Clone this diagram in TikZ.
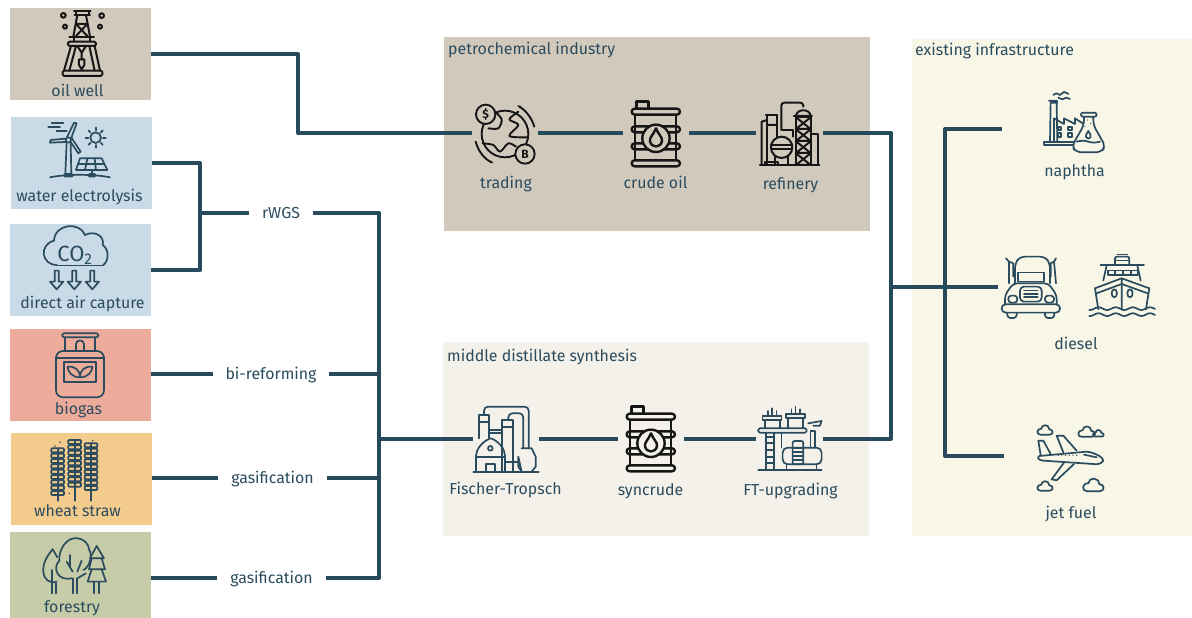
\documentclass[tikz,border=0pt]{standalone}
\usepackage{fontspec}
\setmainfont{Fira Sans}
\usetikzlibrary{positioning, arrows.meta, calc}

\definecolor{inkblue}{HTML}{2B4C5E}
\definecolor{linkblue}{HTML}{274B5C}
\definecolor{inkblack}{HTML}{161616}
\definecolor{tanbox}{HTML}{D2C9BD}
\definecolor{bluebox}{HTML}{C8DBE7}
\definecolor{redbox}{HTML}{ECAB9B}
\definecolor{sandbox}{HTML}{F3CB8C}
\definecolor{greenbox}{HTML}{C6CCA8}
\definecolor{paperbox}{HTML}{F4F1EA}
\definecolor{creambox}{HTML}{F8F6E7}

\begin{document}
\begin{tikzpicture}[
    x=1pt, y=-1pt,
    % Styles
    srcbox/.style={
        rectangle,
        minimum width=141,
        minimum height=92,
        inner sep=0,
        outer sep=0
    },
    panel/.style={
        rectangle,
        inner sep=0,
        outer sep=0
    },
    tag/.style={
        anchor=base,
        inner sep=0,
        text=inkblue,
        font=\fontsize{15.9}{18}\selectfont
    },
    paneltitle/.style={
        tag,
        anchor=base west
    },
    proc/.style={
        inner ysep=0,
        inner xsep=13,
        outer sep=0,
        text height=13,
        text depth=3,
        text=inkblue,
        font=\fontsize{15.9}{18}\selectfont
    },
    iconbox/.style={
        minimum width=#1,
        minimum height=30,
        inner sep=0,
        outer sep=0
    },
    link/.style={
        draw=linkblue,
        line width=3.9,
        line join=round
    },
    % 3x crop coordinates for the icons
    zoomed/.style 2 args={
        shift={(#1,#2)},
        x=.3333pt,
        y=-.3333pt
    },
    ink/.style={
        color=#1,
        line width=1.7,
        line cap=round,
        line join=round
    }
]
    \useasboundingbox (0,0) rectangle (1192,618);

    % Boxes
    \node[srcbox, fill=tanbox] (oilwell) at (80.5,54) {};
    \node[srcbox, fill=bluebox] (water) at (81.5,163) {};
    \node[srcbox, fill=bluebox] (capture) at (80.5,270) {};
    \node[srcbox, fill=redbox] (biogas) at (80.5,375) {};
    \node[srcbox, fill=sandbox] (wheat) at (81.5,478.5) {};
    \node[srcbox, fill=greenbox, minimum height=86] (forestry) at (80.5,575) {};
    \node[panel, fill=tanbox, minimum width=426, minimum height=194] (petro) at (657,134) {};
    \node[panel, fill=paperbox, minimum width=426, minimum height=194] (middle) at (656,439) {};
    \node[panel, fill=creambox, minimum width=280, minimum height=497] (existing) at (1052,287.5) {};

    % Labels
    \node[tag] (oilwelltag) at (77.5,96) {oil well};
    \node[tag] (watertag) at (79.5,201) {water electrolysis};
    \node[tag] (capturetag) at (82.5,308) {direct air capture};
    \node[tag] (biogastag) at (78.5,414) {biogas};
    \node[tag] (wheattag) at (77.5,516) {wheat straw};
    \node[tag] (forestrytag) at (72,612) {forestry};
    \node[paneltitle] (petrotitle) at (448,55) {petrochemical industry};
    \node[paneltitle] (middletitle) at (447,361) {middle distillate synthesis};
    \node[paneltitle] (existingtitle) at (915,56) {existing infrastructure};
    \node[tag] (tradingtag) at (506,188) {trading};
    \node[tag] (crudetag) at (655.5,188) {crude oil};
    \node[tag] (refinerytag) at (790.5,189.5) {refinery};
    \node[tag] (fischertag) at (505.5,494) {Fischer-Tropsch};
    \node[tag] (syncrudetag) at (650.5,495) {syncrude};
    \node[tag] (upgradetag) at (790.5,495) {FT-upgrading};
    \node[tag] (naphthatag) at (1074.5,176) {naphtha};
    \node[tag] (dieseltag) at (1076,349) {diesel};
    \node[tag] (jettag) at (1071,518) {jet fuel};

    % Steps
    \node[proc] (rwgs) at (281,213) {rWGS};
    \node[proc] (biref) at (271,374) {bi-reforming};
    \node[proc] (gasone) at (272.5,478) {gasification};
    \node[proc] (gastwo) at (271.5,578) {gasification};

    \node[iconbox=66] (trading) at (505,133) {};
    \node[iconbox=66] (crude) at (656,133) {};
    \node[iconbox=67] (refinery) at (789.5,133) {};
    \node[iconbox=66] (fischer) at (506,439) {};
    \node[iconbox=66] (syncrude) at (651,439) {};
    \node[iconbox=67] (upgrade) at (789.5,439) {};
    \node[iconbox=146] (naphtha) at (1075,129) {};
    \node[iconbox=160] (diesel) at (1078,287) {};
    \node[iconbox=134] (jet) at (1071,456) {};

    \coordinate (oilbus) at (298,90);
    \coordinate (hbus) at (200,213);
    \coordinate (synbus) at (379,439);
    \coordinate (fuelbus) at (891,287);
    \coordinate (fuelsplit) at (945,287);

    % Paths
    \draw[link] (oilwell.east) -| (oilbus) |- (trading.west);
    \draw[link] (trading.east) -- (crude.west);
    \draw[link] (crude.east) -- (refinery.west);
    \draw[link] (water.east) -| (hbus) |- (capture.east);
    \draw[link] (hbus) -- (rwgs.west);
    \draw[link] (rwgs.east) -| (synbus);
    \draw[link] (biogas.east |- biref.west) -- (biref.west);
    \draw[link] (biref.east) -- (biref.east -| synbus);
    \draw[link] (wheat.east |- gasone.west) -- (gasone.west);
    \draw[link] (gasone.east) -- (gasone.east -| synbus);
    \draw[link] (forestry.east |- gastwo.west) -- (gastwo.west);
    \draw[link] (gastwo.east) -| (synbus);
    \draw[link] (synbus) -- (fischer.west);
    \draw[link] (fischer.east) -- (syncrude.west);
    \draw[link] (syncrude.east) -- (upgrade.west);
    \draw[link] (refinery.east) -| (fuelbus);
    \draw[link] (upgrade.east) -| (fuelbus);
    \draw[link] (fuelbus) -- (diesel.west);
    \draw[link] (naphtha.west) -| (fuelsplit) |- (jet.west);

    % Oil well
    \begin{scope}[zoomed={0}{0}, ink=inkblack, line width=2]
        \draw (222,33) -- (272,33) (228,33) -- (228,45) (266,33) -- (266,45) (224,45) -- (270,45);
        \draw (232,45) -- (220,110) (258,45) -- (270,110);
        \draw (228,72) -- (262,72) (228,72) -- (262,108) (262,72) -- (228,108);
        \draw (208,110) -- (282,110) (222,110) -- (222,125) (270,110) -- (270,125);
        \draw[rounded corners=1.5] (204,125) rectangle (288,138);
        \draw (213,138) -- (192,212) (228,138) -- (208,212) (268,138) -- (284,212) (284,138) -- (300,212);
        \draw (232,138) -- (245,158) -- (258,138) (245,158) -- (245,178);
        \draw (237,178) -- (237,195) -- (245,208) -- (253,195) -- (253,178) -- cycle;
        \draw[rounded corners=1.5] (188,212) rectangle (307,228);
        \draw (190,46) circle[radius=7] (195,80) circle[radius=6] (305,47) circle[radius=7] (300,80) circle[radius=6];
    \end{scope}

    % Wind and sun
    \begin{scope}[zoomed={0}{0}, ink=inkblue]
        \draw (200,428) -- (196,522) (212,428) -- (214,522);
        \draw[rounded corners=1] (193,522) rectangle (218,530);
        \draw (205,420) circle[radius=8];
        \draw (201,412) -- (222,368) -- (230,370) -- (213,416);
        \draw (198,416) -- (152,420) -- (150,428) -- (198,426);
        \draw (212,426) -- (235,460) -- (242,455) -- (215,414);
        \draw (145,380) -- (180,380) (155,370) -- (190,370) (170,392) -- (200,392);
        \draw (287,413) circle[radius=16];
        \foreach \a in {0,45,...,315}
            \draw (287,413) ++(\a:22) -- ++(\a:8);
        \draw (240,475) -- (305,475) -- (322,510) -- (228,510) -- cycle;
        \draw (262,475) -- (255,510) (284,475) -- (288,510) (234,492) -- (313,492);
        \draw (276,510) -- (276,522);
        \draw[rounded corners=1] (266,522) rectangle (286,530);
        \draw (150,532) .. controls (200,522) and (280,522) .. (330,532);
    \end{scope}

    % CO2 cloud
    \begin{scope}[zoomed={0}{0}, ink=inkblue]
        \draw (170,795) .. controls (125,795) and (115,735) .. (162,722);
        \draw (162,722) .. controls (165,670) and (240,665) .. (255,705);
        \draw (255,705) .. controls (285,690) and (315,710) .. (308,735);
        \draw (308,735) .. controls (330,750) and (325,785) .. (310,795);
        \draw (170,797) -- (310,797);
        \node[inner sep=0, text=inkblue, font=\fontsize{22}{22}\selectfont] (cotwo) at (225,765) {CO\textsubscript{2}};
        \foreach \ax in {170,223,277}
            \draw (\ax-6,812) -- (\ax+6,812) -- (\ax+6,845) -- (\ax+20,845) -- (\ax,868) -- (\ax-20,845) -- (\ax-6,845) -- cycle;
    \end{scope}

    % Biogas
    \begin{scope}[zoomed={0}{320}, ink=inkblue]
        \draw[rounded corners=1.5] (187,40) rectangle (295,52);
        \draw (195,52) -- (195,93) (285,52) -- (285,93);
        \draw (228,93) -- (228,72) .. controls (228,58) and (252,58) .. (252,72) -- (252,93);
        \draw[rounded corners=7] (168,93) rectangle (312,232);
        \draw (168,115) -- (312,115);
        \draw (192,127) rectangle (288,185);
        \draw (240,172) .. controls (215,172) and (203,155) .. (203,140) .. controls (225,138) and (240,150) .. (240,172);
        \draw (240,172) .. controls (265,172) and (277,155) .. (277,140) .. controls (255,138) and (240,150) .. (240,172);
    \end{scope}

    % Wheat
    \begin{scope}[zoomed={0}{320}, ink=inkblue]
        \foreach \sx/\stop in {173/385,224/360,273/370} {
            \draw (\sx,\stop) -- (\sx,542);
            \foreach \k in {0,...,8}
                \draw[rounded corners=.8] (\sx-19,\stop+\k*16) rectangle (\sx+19,\stop+\k*16+12);
        }
        \fill (180,367) circle[radius=2.5] (165,378) circle[radius=2.5] (208,520) circle[radius=2.5] (278,362) circle[radius=2.5];
    \end{scope}

    % Forestry
    \begin{scope}[zoomed={0}{320}, ink=inkblue]
        \draw (158,688) .. controls (140,710) and (128,730) .. (130,755) .. controls (132,780) and (150,792) .. (170,785);
        \draw (158,688) -- (172,712);
        \draw (155,750) -- (155,820) (168,790) -- (168,820);
        \draw (215,775) .. controls (175,785) and (155,745) .. (178,722) .. controls (175,690) and (200,650) .. (232,655) .. controls (255,658) and (265,672) .. (268,690) .. controls (280,710) and (265,745) .. (250,750);
        \draw (218,775) -- (218,820) (232,775) -- (232,820);
        \draw (218,755) -- (200,725) (210,742) -- (210,705) (232,775) -- (258,760) (232,755) -- (245,722);
        \draw (290,678) -- (312,715) -- (270,715) -- cycle;
        \draw (275,715) -- (267,748) -- (315,748) -- (305,715);
        \draw (275,748) -- (263,785) -- (318,785) -- (305,748);
        \draw (282,785) -- (282,820) (298,785) -- (298,820);
    \end{scope}

    % Trading
    \begin{scope}[zoomed={440}{30}, ink=inkblack, line width=1.9]
        \draw (195,312) circle[radius=70];
        \draw plot[smooth] coordinates {(165,245) (185,268) (175,295) (145,295)};
        \draw plot[smooth] coordinates {(235,245) (208,268) (235,285) (208,318) (262,322)};
        \draw plot[smooth] coordinates {(128,340) (160,345) (180,365) (205,340) (228,350)};
        \draw[fill=tanbox] (137,253) circle[radius=29] (255,372) circle[radius=29];
        \node[inner sep=0, text=inkblack, font=\fontsize{12}{12}\selectfont\bfseries] (dollar) at (137,253) {\$};
        \node[inner sep=0, text=inkblack, font=\fontsize{12}{12}\selectfont\bfseries] (bitcoin) at (255,372) {B};
        \draw[-{Latex[length=4]}] (283,290) .. controls (275,262) and (255,240) .. (230,225);
        \draw[-{Latex[length=4]}] (107,335) .. controls (115,365) and (135,388) .. (162,400);
    \end{scope}

    % Barrels
    \foreach \ox/\oy/\bg in {440/30/tanbox, 435/335/paperbox} {
        \begin{scope}[zoomed={\ox}{\oy}, ink=inkblack, line width=2.4]
            \draw (590,235) -- (590,215) -- (625,215) -- (625,235);
            \draw (585,255) -- (585,390) (708,255) -- (708,390);
            \draw[rounded corners=3] (575,236) rectangle (720,254);
            \draw[rounded corners=3] (575,391) rectangle (720,409);
            \draw[rounded corners=3] (575,289) rectangle (720,307);
            \draw[rounded corners=3] (575,340) rectangle (720,358);
            \draw[fill=\bg] (648,325) circle[radius=41];
            \draw (648,295) .. controls (640,315) and (628,322) .. (630,333) .. controls (633,355) and (663,355) .. (666,333) .. controls (668,322) and (656,315) .. (648,295) -- cycle;
        \end{scope}
    }

    % Refinery
    \begin{scope}[zoomed={440}{30}, ink=inkblack, line width=2]
        \draw[line width=2.2] (960,405) -- (1138,405);
        \draw (1068,262) rectangle (1112,405);
        \draw (1062,258) -- (1116,258) (1068,258) .. controls (1070,235) and (1110,235) .. (1112,258);
        \foreach \ly in {262,298,334,370}
            \draw (1068,\ly) -- (1112,\ly+35) (1112,\ly) -- (1068,\ly+35) (1068,\ly+35) -- (1112,\ly+35);
        \draw[rounded corners=3] (1024,300) -- (1024,218) -- (1090,218) -- (1090,230);
        \draw (978,255) -- (1012,255) (982,255) -- (982,400) (1010,255) -- (1010,325);
        \draw (982,285) -- (1010,285) (965,405) -- (965,275) -- (982,270);
        \draw (1028,300) -- (1060,300) -- (1060,320);
        \draw (1112,312) -- (1135,312) -- (1135,405);
        \draw (1005,380) -- (1005,405) (1045,380) -- (1045,405);
        \draw (975,395) rectangle (1015,405);
        \draw[fill=tanbox] (1025,352) circle[radius=32];
        \draw (993,345) -- (1057,345) (995,358) -- (1055,358);
    \end{scope}

    % Fischer-Tropsch plant
    \begin{scope}[zoomed={440}{335}, ink=inkblue]
        \draw (100,410) -- (296,410);
        \draw (108,410) -- (108,362) .. controls (112,325) and (150,310) .. (152,310) .. controls (155,310) and (192,325) .. (195,362) -- (195,410);
        \draw (108,365) -- (195,365);
        \draw (151,340) circle[radius=7];
        \draw (137,388) rectangle (165,410);
        \draw (117,310) -- (117,240) -- (148,240) -- (148,310) (117,262) -- (148,262);
        \draw (187,410) -- (187,255) -- (218,255) -- (218,410) (187,275) -- (218,275);
        \draw[rounded corners=4] (132,240) -- (132,215) -- (266,215) -- (266,340);
        \draw[rounded corners=4] (205,255) -- (205,235) -- (250,235) -- (250,340);
        \draw (148,285) -- (187,285) (148,295) -- (187,295) (195,380) -- (235,380);
        \draw (245,340) -- (275,340) -- (287,365) -- (287,395) -- (275,410) (245,410) -- (235,395) -- (235,365) -- cycle;
    \end{scope}

    % FT-upgrading plant
    \begin{scope}[zoomed={440}{335}, ink=inkblue]
        \draw (955,405) -- (1145,405);
        \draw[rounded corners=1.5] (955,280) rectangle (1100,293);
        \foreach \ux/\uy in {0/0,70/-5} {
            \draw (968+\ux,243+\uy) rectangle (1025+\ux,255+\uy);
            \draw (975+\ux,255+\uy) -- (975+\ux,280) (1020+\ux,255+\uy) -- (1020+\ux,280);
            \draw (997+\ux,220+\uy) -- (997+\ux,243+\uy) (985+\ux,228+\uy) -- (985+\ux,243+\uy) (1010+\ux,228+\uy) -- (1010+\ux,243+\uy);
        }
        \draw (978,293) -- (978,405) (1003,293) -- (1003,405) (1025,293) -- (1025,338);
        \foreach \ry in {305,325,...,395}
            \draw (978,\ry) -- (1003,\ry);
        \draw[rounded corners=5] (1028,338) rectangle (1145,388);
        \draw[rounded corners=2] (1058,318) rectangle (1090,388);
        \foreach \ry in {340,352,364,376}
            \draw (1058,\ry) -- (1090,\ry);
        \draw (1112,338) -- (1112,288) -- (1125,288) -- (1125,338);
        \draw (1105,265) -- (1145,258) -- (1140,272) -- (1120,272);
        \draw (1040,388) -- (1040,405) (1130,388) -- (1130,405);
    \end{scope}

    % Naphtha
    \begin{scope}[zoomed={880}{30}, ink=inkblue]
        \draw (492,337) rectangle (585,346);
        \draw (510,337) -- (512,218) -- (530,218) -- (532,337) (507,212) -- (531,212) -- (531,218);
        \draw (522,337) -- (522,265) -- (552,282) -- (552,265) -- (585,282) -- (585,265) -- (608,280);
        \foreach \wx/\wy in {533/290,565/290,533/310,565/310}
            \draw (\wx,\wy) rectangle (\wx+10,\wy+10);
        \draw plot[smooth] coordinates {(520,195) (530,190) (540,195) (552,186) (565,192)};
        \draw plot[smooth] coordinates {(535,203) (548,208) (558,203) (570,207)};
        \draw[fill=creambox, rounded corners=5] (612,260) -- (612,285) -- (575,350) -- (590,367) -- (662,367) -- (677,350) -- (640,285) -- (640,260);
        \draw[fill=creambox, rounded corners=2] (603,248) rectangle (650,260);
        \draw plot[smooth] coordinates {(590,335) (610,332) (640,338) (660,335)};
        \draw (625,303) .. controls (620,312) and (616,316) .. (618,321) .. controls (621,328) and (630,328) .. (632,321) .. controls (634,316) and (630,312) .. (625,303) -- cycle;
        \fill (622,270) circle[radius=1.8] (632,280) circle[radius=1.8] (615,290) circle[radius=1.8];
    \end{scope}

    % Truck
    \begin{scope}[zoomed={880}{30}, ink=inkblue]
        \draw[rounded corners=5] (405,760) -- (405,700) -- (420,680) -- (495,680) -- (510,700) -- (510,760);
        \draw (413,728) rectangle (493,755);
        \draw (387,760) -- (387,695) (400,740) -- (400,700) (378,685) -- (387,695) -- (400,700);
        \draw (528,760) -- (522,695) (512,740) -- (512,700) (528,685) -- (522,695) -- (512,700);
        \draw[rounded corners=4] (375,823) -- (375,795) -- (400,760) -- (505,760) -- (530,795) -- (530,823);
        \draw[rounded corners=4] (420,770) rectangle (485,815);
        \draw (432,782) -- (473,782) (432,792) -- (473,792) (432,802) -- (473,802);
        \draw[rounded corners=3] (385,797) rectangle (412,818);
        \draw[rounded corners=3] (495,797) rectangle (522,818);
        \draw[rounded corners=4] (365,823) rectangle (540,848);
        \draw[rounded corners=3] (382,848) -- (382,864) -- (410,864) -- (410,848);
        \draw[rounded corners=3] (495,848) -- (495,864) -- (523,864) -- (523,848);
    \end{scope}

    % Ship
    \begin{scope}[zoomed={880}{30}, ink=inkblue]
        \draw[rounded corners=2] (705,705) -- (705,680) -- (748,680) -- (748,705);
        \draw (712,674) -- (742,674) (705,692) -- (748,692) (662,706) -- (792,706);
        \draw (680,706) -- (670,752) (772,706) -- (782,752);
        \draw (683,722) rectangle (775,735);
        \foreach \wx in {705,728,752}
            \draw (\wx,722) -- (\wx,735);
        \draw (645,775) -- (725,745) -- (808,775) (650,790) -- (725,762) -- (803,790);
        \draw (645,775) -- (655,838) (808,775) -- (798,838) (725,745) -- (725,838);
        \draw (703,790) ellipse[x radius=8, y radius=12] (750,790) ellipse[x radius=8, y radius=12];
        \draw plot[domain=628:825, samples=80] (\x,{836+4*sin(\x*7)});
        \draw plot[domain=628:825, samples=80] (\x,{854+4*sin(\x*7)});
    \end{scope}

    % Plane
    \begin{scope}[zoomed={880}{320}, ink=inkblue]
        \draw (478,408) -- (620,395) .. controls (645,398) and (670,412) .. (670,422) .. controls (665,432) and (650,434) .. (640,432) -- (490,422) .. controls (472,420) and (472,412) .. (478,408) -- cycle;
        \draw (482,405) -- (475,362) -- (490,362) -- (512,402);
        \draw (550,397) -- (530,347) -- (550,347) -- (590,392);
        \draw (552,428) -- (515,478) -- (530,481) -- (582,432);
        \draw (612,404) -- (650,412);
        \foreach \wx in {535,546,...,600}
            \fill (\wx,406) circle[radius=2];
        \foreach \cx/\cy/\cs in {495/330/1, 620/335/1.1, 655/340/.7, 495/498/1, 640/495/1.35} {
            \begin{scope}[shift={(\cx,\cy)}, scale=\cs]
                \draw (-14,14) -- (14,14) .. controls (26,14) and (26,-2) .. (13,-2) .. controls (12,-18) and (-10,-18) .. (-11,-4) .. controls (-26,-4) and (-26,14) .. (-14,14) -- cycle;
            \end{scope}
        }
    \end{scope}
\end{tikzpicture}
\end{document}
